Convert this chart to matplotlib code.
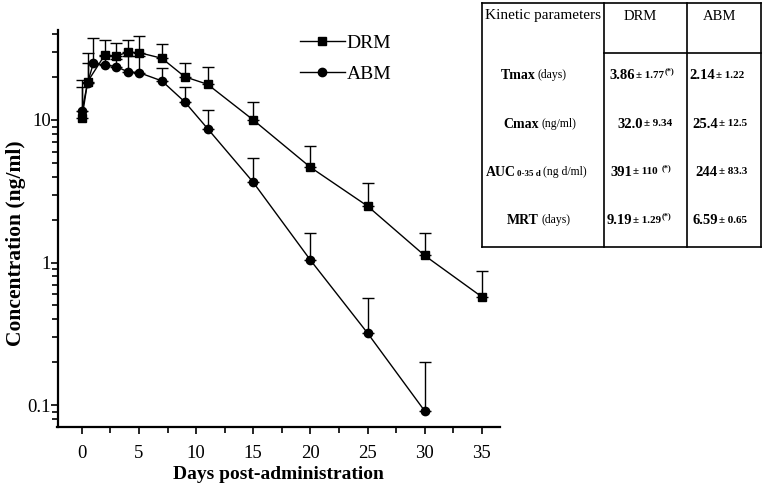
import numpy as np
import matplotlib
matplotlib.use('Agg')
import matplotlib.pyplot as plt
from matplotlib.lines import Line2D
from matplotlib.ticker import LogLocator, FixedLocator, NullFormatter

# Данные
drm_days = [0, 0.5, 2, 3, 4, 5, 7, 9, 11, 15, 20, 25, 30, 35]
drm_conc = [10.3, 18.6, 28.6, 28.1, 29.9, 29.7, 27.1, 20.1, 17.8, 10.0, 4.66, 2.49, 1.12, 0.575]
drm_top = [17.1, 29.3, 36.7, 34.5, 36.7, 38.9, 34.2, 25.3, 23.7, 13.4, 6.6, 3.6, 1.6, 0.875]

abm_days = [0, 0.5, 1, 2, 3, 4, 5, 7, 9, 11, 15, 20, 25, 30]
abm_conc = [11.6, 18.3, 25.0, 24.3, 23.7, 21.8, 21.5, 18.8, 13.4, 8.7, 3.65, 1.04, 0.32, 0.091]
abm_top = [19.1, 25.0, 37.8, 28.0, 27.0, 28.0, 28.0, 23.1, 17.1, 11.8, 5.44, 1.6, 0.56, 0.20]

x_ticks = [0, 5, 10, 15, 20, 25, 30, 35]
y_ticks = [0.1, 1, 10]
y_tick_labels = ['0.1', '1', '10']

# Таблица кинетических параметров
table_header = ['Kinetic parameters', 'DRM', 'ABM']
param_names = ['Tmax', 'Cmax', 'AUC', 'MRT']
param_units = ['(days)', '(ng/ml)', '(ng d/ml)', '(days)']
drm_mean = ['3.86', '32.0', '391', '9.19']
drm_sd = ['± 1.77', '± 9.34', '± 110', '± 1.29']
drm_flag = ['(*)', '', '(*)', '(*)']
abm_mean = ['2.14', '25.4', '244', '6.59']
abm_sd = ['± 1.22', '± 12.5', '± 83.3', '± 0.65']

W, H = 762, 490
SERIF = 'Liberation Serif'
plt.rcParams['font.family'] = [SERIF, 'DejaVu Serif']


def fx(x):
    return x / W


def fy(y):
    return 1 - y / H


fig = plt.figure(figsize=(W / 100, H / 100), dpi=100)
ax = fig.add_axes([fx(57.5), fy(427), (500 - 57.5) / W, (427 - 30) / H])

# Кривые с односторонними погрешностями
drm_err = [np.zeros(len(drm_conc)), np.array(drm_top) - np.array(drm_conc)]
abm_err = [np.zeros(len(abm_conc)), np.array(abm_top) - np.array(abm_conc)]
eb_drm = ax.errorbar(drm_days, drm_conc, yerr=drm_err, color='black', lw=1.0,
                     marker='s', ms=5.2, capsize=4.3, elinewidth=1.0, capthick=1.0,
                     label='DRM')
eb_abm = ax.errorbar(abm_days, abm_conc, yerr=abm_err, color='black', lw=1.0,
                     marker='o', ms=6, capsize=4.3, elinewidth=1.0, capthick=1.0,
                     label='ABM')

ax.set_yscale('log')
ax.set_xlim(-2.14, 36.6)
ax.set_ylim(0.0701, 42.8)

ax.spines['top'].set_visible(False)
ax.spines['right'].set_visible(False)
ax.spines['left'].set_linewidth(1.6)
ax.spines['bottom'].set_linewidth(1.6)

ax.set_xticks(x_ticks)
ax.set_xticklabels([str(t) for t in x_ticks])
ax.xaxis.set_minor_locator(FixedLocator(np.arange(2.5, 36, 5)))
ax.set_yticks(y_ticks)
ax.set_yticklabels(y_tick_labels)
ax.yaxis.set_minor_locator(LogLocator(base=10, subs=np.arange(2, 10)))
ax.yaxis.set_minor_formatter(NullFormatter())
ax.tick_params(axis='both', which='major', direction='out', length=5, width=1.2,
               labelsize=13.5, pad=8)
ax.tick_params(axis='both', which='minor', direction='out', length=4, width=1.2)
ax.tick_params(axis='y', which='major', pad=-0.5)

ax.set_xlabel('Days post-administration', fontsize=14, fontweight='bold', labelpad=3)
ax.set_ylabel('Concentration (ng/ml)', fontsize=15.5, fontweight='bold')
ax.yaxis.set_label_coords(-0.071, 0.463)

ax.legend(handles=[eb_drm[0], eb_abm[0]], labels=['DRM', 'ABM'], frameon=False,
          loc='upper left', bbox_to_anchor=(fx(300), fy(34)),
          bbox_transform=fig.transFigure, fontsize=14, handlelength=2.3,
          handletextpad=0.1, labelspacing=0.7, borderpad=0, borderaxespad=0)

# Рамка таблицы
lw = 1.2
table_lines = [
    ((482, 761), (3, 3)), ((482, 761), (247, 247)),
    ((482, 482), (3, 247)), ((761, 761), (3, 247)),
    ((604, 604), (3, 247)), ((687, 687), (3, 247)),
    ((604, 761), (53, 53)),
]
for xs, ys in table_lines:
    fig.add_artist(Line2D([fx(xs[0]), fx(xs[1])], [fy(ys[0]), fy(ys[1])],
                          transform=fig.transFigure, color='black', lw=lw))

fig.text(fx(543), fy(16), table_header[0], fontsize=11, ha='center', va='center')
fig.text(fx(640), fy(16), table_header[1], fontsize=10.5, ha='center', va='center')
fig.text(fx(720), fy(16), table_header[2], fontsize=10.5, ha='center', va='center')

row_y = [75, 124, 172, 220]
name_end = [536, 539, 516, 539]
for i, y in enumerate(row_y):
    fig.text(fx(name_end[i]), fy(y), param_names[i], fontsize=10, fontweight='bold',
             ha='right', va='center')
    ux = name_end[i] + 2
    if param_names[i] == 'AUC':
        fig.text(fx(ux - 1), fy(y + 2), '0-35 d', fontsize=6.5, fontweight='bold',
                 ha='left', va='center')
        ux = 543
    fig.text(fx(ux), fy(y), param_units[i], fontsize=8.5, ha='left', va='center')

drm_split = [635, 643, 632, 632]
for i, y in enumerate(row_y):
    fig.text(fx(drm_split[i]), fy(y), drm_mean[i], fontsize=10.5, fontweight='bold',
             ha='right', va='center')
    fig.text(fx(drm_split[i] + 1), fy(y), drm_sd[i], fontsize=8, fontweight='bold',
             ha='left', va='center')
    if drm_flag[i]:
        fig.text(fx(drm_split[i] + 30), fy(y - 4), drm_flag[i], fontsize=6,
                 fontweight='bold', ha='left', va='center')

abm_split = [715, 718, 718, 718]
for i, y in enumerate(row_y):
    fig.text(fx(abm_split[i]), fy(y), abm_mean[i], fontsize=10.5, fontweight='bold',
             ha='right', va='center')
    fig.text(fx(abm_split[i] + 1), fy(y), abm_sd[i], fontsize=8, fontweight='bold',
             ha='left', va='center')

fig.savefig('out.png', dpi=100)
